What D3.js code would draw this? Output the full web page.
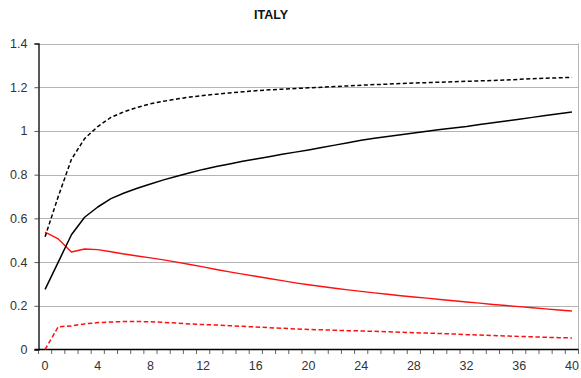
<!DOCTYPE html>
<html>
<head>
<meta charset="utf-8">
<script src="https://cdn.jsdelivr.net/npm/d3@7"></script>
<style>
  html, body { margin: 0; padding: 0; background: #fff; }
  svg { display: block; font-family: "Liberation Sans", Arial, sans-serif; }
</style>
</head>
<body>
<svg id="chart" width="581" height="378"></svg>
<script>
// Horizon (periods) and y-axis ticks
const periods = d3.range(0, 41);
const xTickLabels = [0, 4, 8, 12, 16, 20, 24, 28, 32, 36, 40];
const yTicks = [0, 0.2, 0.4, 0.6, 0.8, 1, 1.2, 1.4];

// Series values per period
const blackDashed = [0.516, 0.70, 0.87, 0.965, 1.02, 1.062, 1.088, 1.108, 1.124, 1.136,
  1.146, 1.155, 1.162, 1.168, 1.174, 1.179, 1.184, 1.188, 1.191, 1.194,
  1.197, 1.200, 1.203, 1.206, 1.209, 1.212, 1.214, 1.217, 1.219, 1.221,
  1.223, 1.225, 1.227, 1.229, 1.231, 1.233, 1.236, 1.239, 1.241, 1.243, 1.245];
const blackSolid = [0.275, 0.40, 0.525, 0.605, 0.652, 0.69, 0.716, 0.738, 0.757, 0.776,
  0.793, 0.809, 0.824, 0.837, 0.849, 0.861, 0.872, 0.882, 0.893, 0.903,
  0.913, 0.924, 0.935, 0.946, 0.957, 0.966, 0.974, 0.982, 0.99, 0.998,
  1.006, 1.013, 1.02, 1.029, 1.037, 1.045, 1.053, 1.062, 1.071, 1.079, 1.087];
const redSolid = [0.537, 0.506, 0.446, 0.46, 0.457, 0.447, 0.437, 0.428, 0.419, 0.41,
  0.40, 0.389, 0.378, 0.366, 0.355, 0.345, 0.335, 0.325, 0.315, 0.305,
  0.296, 0.288, 0.28, 0.273, 0.266, 0.259, 0.253, 0.246, 0.24, 0.235,
  0.229, 0.223, 0.217, 0.212, 0.206, 0.201, 0.196, 0.191, 0.186, 0.181, 0.176];
const redDashed = [0, 0.104, 0.108, 0.117, 0.123, 0.126, 0.128, 0.128, 0.127, 0.124,
  0.121, 0.117, 0.114, 0.112, 0.109, 0.106, 0.103, 0.100, 0.097, 0.094,
  0.092, 0.09, 0.088, 0.086, 0.085, 0.083, 0.081, 0.079, 0.077, 0.075,
  0.073, 0.071, 0.068, 0.066, 0.064, 0.062, 0.06, 0.058, 0.056, 0.054, 0.053];

const svg = d3.select("#chart");
const plot = { left: 38.5, right: 578.5, top: 43.5, bottom: 349.5 };

const x = d3.scalePoint().domain(periods).range([plot.left, plot.right]).padding(0.5);
const y = d3.scaleLinear().domain([0, 1.4]).range([plot.bottom, plot.top]);
const step = x.step();

// Title
svg.append("text")
  .attr("x", 271).attr("y", 19)
  .attr("text-anchor", "middle")
  .attr("font-size", 12.5).attr("font-weight", "bold")
  .attr("fill", "#111")
  .text("ITALY");

// Horizontal gridlines
svg.append("g").selectAll("line").data(yTicks.filter(d => d > 0)).join("line")
  .attr("x1", plot.left).attr("x2", plot.right)
  .attr("y1", d => Math.round(y(d)) + 0.5).attr("y2", d => Math.round(y(d)) + 0.5)
  .attr("stroke", "#b4b4b4").attr("stroke-width", 1);

// Right border of the plot area
svg.append("line")
  .attr("x1", plot.right).attr("x2", plot.right)
  .attr("y1", plot.top).attr("y2", plot.bottom)
  .attr("stroke", "#b4b4b4").attr("stroke-width", 1);

// Y axis
const yAxis = d3.axisLeft(y).tickValues(yTicks)
  .tickFormat(d => d3.format("")(+d.toFixed(1))).tickSize(4).tickPadding(7);
const gy = svg.append("g").attr("transform", `translate(${plot.left},0)`).call(yAxis);
gy.select(".domain").attr("stroke", "#000").attr("stroke-width", 1.3);
gy.selectAll(".tick line").attr("stroke", "#555");
gy.selectAll(".tick text").attr("font-size", 12.5).attr("fill", "#333")
  .attr("font-family", "Liberation Sans, Arial, sans-serif");

// X axis: tick marks between periods, labels every 4 periods
const boundaries = d3.range(0, 42).map(i => plot.left + i * step);
svg.append("g").selectAll("line").data(boundaries).join("line")
  .attr("x1", d => d).attr("x2", d => d)
  .attr("y1", plot.bottom).attr("y2", plot.bottom + 4.5)
  .attr("stroke", "#666").attr("stroke-width", 1);
svg.append("line")
  .attr("x1", plot.left - 4).attr("x2", plot.right)
  .attr("y1", plot.bottom).attr("y2", plot.bottom)
  .attr("stroke", "#000").attr("stroke-width", 1.3);
svg.append("g").selectAll("text").data(xTickLabels).join("text")
  .attr("x", d => x(d)).attr("y", 370)
  .attr("text-anchor", "middle")
  .attr("font-size", 12.5).attr("fill", "#333")
  .text(d => d);

// Series lines
const line = d3.line().x((d, i) => x(periods[i])).y(d => y(d));
const series = [
  { values: redDashed, color: "#ff1010", dash: "4.5,2.5", width: 1.5 },
  { values: redSolid, color: "#ff1010", dash: null, width: 1.4 },
  { values: blackSolid, color: "#000", dash: null, width: 1.5 },
  { values: blackDashed, color: "#000", dash: "4,2.5", width: 1.5 }
];
svg.append("g").selectAll("path").data(series).join("path")
  .attr("d", d => line(d.values))
  .attr("fill", "none")
  .attr("stroke", d => d.color)
  .attr("stroke-width", d => d.width)
  .attr("stroke-dasharray", d => d.dash)
  .attr("stroke-linejoin", "round");
</script>
</body>
</html>
